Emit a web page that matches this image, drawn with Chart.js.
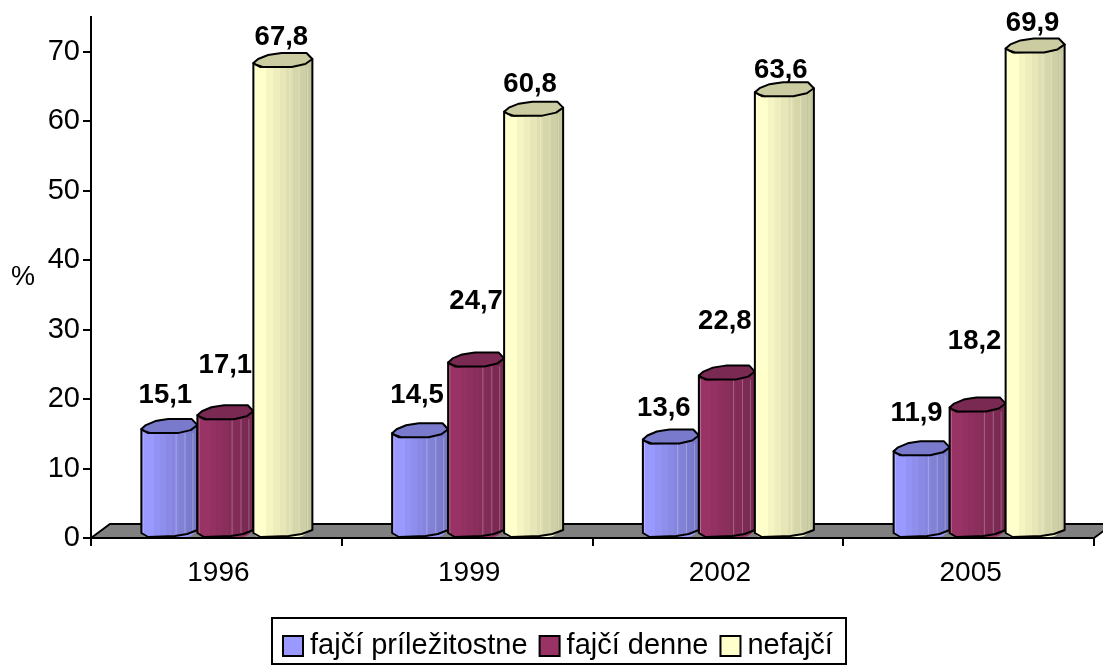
<!DOCTYPE html>
<html>
<head>
<meta charset="utf-8">
<style>html,body{margin:0;padding:0;background:#fff}canvas{display:block}</style>
<script src="https://cdn.jsdelivr.net/npm/chart.js@4"></script>
</head>
<body>
<canvas id="c" width="1103" height="666"></canvas>
<script>
const years = ['1996', '1999', '2002', '2005'];
const seriesNames = ['fajčí príležitostne', 'fajčí denne', 'nefajčí'];
const occasional = [15.1, 14.5, 13.6, 11.9];
const daily = [17.1, 24.7, 22.8, 18.2];
const nonSmokers = [67.8, 60.8, 63.6, 69.9];
const yTitle = '%';

const baseColors = [[153, 153, 255], [153, 51, 102], [255, 255, 204]];
const depthShift = 9;
const extraWidth = [0, 0, 3];
const nudgeX = [[-4, -3, -7, -5], [0, 0, -2, -3], [0, -2, -2, -1]];
const nudgeY = [[-38, -42, -35, -42], [-54, -65, -58, -70], [-30, -31, -26, -29]];
const FONT = '"Liberation Sans", Arial, sans-serif';
const shades = [1, 1, .96, .93, .9, .87, .84, .81, .78];

function rgb(c, f) { return `rgb(${Math.round(c[0]*f)},${Math.round(c[1]*f)},${Math.round(c[2]*f)})`; }

function drawCylinder(ctx, el, dsIndex) {
  const L = el.x - el.width / 2 + depthShift, W = el.width + extraWidth[dsIndex];
  const yt = el.y, yb = el.base, c = baseColors[dsIndex];
  const P = (u, y) => [L + u * W, y];
  const body = [P(0, yt-4), P(.12, yt), P(.6, yt-1), P(1, yt-8),
                P(1, yb-7), P(.82, yb-3), P(.6, yb-1), P(.12, yb), P(0, yb-4)];
  const lid = [P(0, yt-4), P(.08, yt-8), P(.25, yt-12), P(.36, yt-13), P(.48, yt-14), P(.9, yt-14), P(1, yt-8),
               P(.88, yt-3), P(.65, yt), P(.16, yt), P(.06, yt-2)];
  const trace = pts => { ctx.beginPath(); pts.forEach((p, i) => i ? ctx.lineTo(p[0], p[1]) : ctx.moveTo(p[0], p[1])); ctx.closePath(); };

  const g = ctx.createLinearGradient(L, 0, L + W, 0);
  shades.forEach((f, i) => {
    const a = i / shades.length, b = (i + 1) / shades.length;
    g.addColorStop(a, rgb(c, f)); g.addColorStop(b - .001, rgb(c, f));
  });
  ctx.save();
  ctx.lineJoin = 'round';
  trace(body); ctx.fillStyle = g; ctx.fill();
  ctx.save(); trace(body); ctx.clip();
  ctx.strokeStyle = 'rgba(255,255,255,.28)'; ctx.lineWidth = 1;
  [.03, .62, .78, .92].forEach(u => {
    ctx.beginPath(); ctx.moveTo(L + u * W, yt); ctx.lineTo(L + u * W, yb); ctx.stroke();
  });
  ctx.restore();
  trace(body); ctx.strokeStyle = '#000'; ctx.lineWidth = 2; ctx.stroke();
  trace(lid); ctx.fillStyle = rgb(c, .8); ctx.fill(); ctx.stroke();
  ctx.restore();
}

const cylinderPlugin = {
  id: 'cylinders',
  beforeDraw(chart) {
    const lg = chart.legend;
    const delta = 283 - lg.legendHitBoxes[0].left;
    lg.left += delta; lg.right += delta;
    lg.legendHitBoxes.forEach(h => { h.left += delta; });
    lg.top = 619;
  },
  beforeDatasetsDraw(chart) {
    const { ctx, chartArea: a } = chart;
    ctx.save();
    ctx.beginPath();
    ctx.moveTo(a.left, a.bottom);
    ctx.lineTo(a.left + 19, a.bottom - 14);
    ctx.lineTo(a.right + 19, a.bottom - 14);
    ctx.lineTo(a.right, a.bottom);
    ctx.closePath();
    ctx.fillStyle = '#808080'; ctx.fill();
    ctx.strokeStyle = '#000'; ctx.lineWidth = 2; ctx.stroke();
    ctx.restore();
  },
  beforeDatasetDraw(chart) { chart.ctx.save(); chart.ctx.translate(depthShift, 0); },
  afterDatasetDraw(chart) { chart.ctx.restore(); },
  afterDatasetsDraw(chart) {
    const ctx = chart.ctx;
    chart.data.datasets.forEach((ds, d) => {
      chart.getDatasetMeta(d).data.forEach(el => drawCylinder(ctx, el, d));
    });
    ctx.save();
    ctx.fillStyle = '#000'; ctx.textAlign = 'center'; ctx.textBaseline = 'middle';
    ctx.font = 'bold 27.5px ' + FONT;
    chart.data.datasets.forEach((ds, d) => {
      chart.getDatasetMeta(d).data.forEach((el, i) => {
        ctx.fillText(String(ds.data[i]).replace('.', ','), el.x + depthShift + nudgeX[d][i], el.y + nudgeY[d][i]);
      });
    });
    ctx.font = '27px ' + FONT;
    ctx.fillText(yTitle, 23, 278);
    ctx.strokeStyle = '#000'; ctx.lineWidth = 2;
    ctx.strokeRect(272, 618, 574, 46);
    const lg = chart.legend;
    lg.legendHitBoxes.forEach((h, i) => {
      ctx.fillStyle = rgb(baseColors[i], 1);
      ctx.fillRect(h.left, 636, 20, 20);
      ctx.strokeRect(h.left, 636, 20, 20);
    });
    ctx.restore();
  }
};

const mk = (i, data) => ({
  label: seriesNames[i], data,
  backgroundColor: rgb(baseColors[i], 1),
  borderWidth: 0, borderSkipped: false,
  borderRadius: { topLeft: 0, topRight: 0, bottomLeft: 6, bottomRight: 12 },
  categoryPercentage: .67, barPercentage: 1
});

new Chart(document.getElementById('c'), {
  type: 'bar',
  data: { labels: years, datasets: [mk(0, occasional), mk(1, daily), mk(2, nonSmokers)] },
  plugins: [cylinderPlugin],
  options: {
    responsive: false, animation: false,
    layout: { padding: { top: 17, right: 9, left: 0, bottom: 2 } },
    plugins: {
      title: { display: false }, tooltip: { enabled: false },
      legend: {
        position: 'bottom',
        labels: {
          boxWidth: 12.5, boxHeight: 19, padding: 12, color: '#000',
          font: { family: FONT, size: 29 },
          generateLabels(chart) {
            return Chart.defaults.plugins.legend.labels.generateLabels(chart).map(it => ({ ...it, lineWidth: 0 }));
          }
        }
      }
    },
    scales: {
      x: {
        afterFit(s) { s.height = 75; s.paddingLeft = 0; s.paddingRight = 0; },
        border: { color: '#000', width: 2 },
        grid: { offset: true, drawOnChartArea: false, drawTicks: true, tickLength: 8, color: '#000', lineWidth: 2 },
        ticks: { color: '#000', font: { family: FONT, size: 28 }, padding: 10, maxRotation: 0, labelOffset: 2 }
      },
      y: {
        min: 0, max: 75,
        afterFit(s) { s.width = 91; s.paddingTop = 0; s.paddingBottom = 0; },
        border: { color: '#000', width: 2 },
        grid: { drawOnChartArea: false, drawTicks: true, tickLength: 8, color: '#000', lineWidth: 2 },
        ticks: { stepSize: 10, includeBounds: false, color: '#000', font: { family: FONT, size: 29 }, padding: 3 }
      }
    }
  }
});
</script>
</body>
</html>
